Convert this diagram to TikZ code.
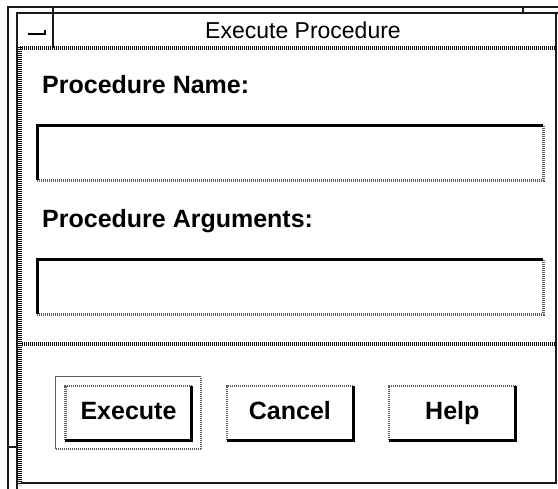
\documentclass[tikz,border=0pt]{standalone}
\usepackage{fontspec}
\newfontfamily\uifont{Liberation Sans}
\usetikzlibrary{positioning, calc}
\definecolor{Frame}{HTML}{1A1A1A}
\definecolor{Shade}{HTML}{5E5E5E}
\tikzset{
    frameline/.style={line width=1.3pt, color=Frame},
    darkedge/.style={line width=3pt, color=black},
    lightedge/.style={line width=2.4pt, color=Shade, dash pattern=on 1pt off 1pt},
    ridge/.style={line width=3.4pt, color=black, dash pattern=on 1.3pt off 0.7pt},
    field/.style={rectangle, minimum width=506pt, minimum height=54pt, inner sep=0pt, anchor=north west},
    pushbutton/.style={rectangle, minimum width=126pt, minimum height=54pt, inner sep=0pt,
        text height=18pt, text depth=5pt, font=\uifont\bfseries\fontsize{25}{25}\selectfont},
    focusbox/.style={rectangle, minimum width=145pt, minimum height=72pt, inner sep=0pt},
    fieldlabel/.style={anchor=base west, inner sep=0pt, font=\uifont\bfseries\fontsize{25}{25}\selectfont},
}

\begin{document}
\begin{tikzpicture}[x=1pt, y=-1pt]
    \useasboundingbox (0,0) rectangle (558,489);
    \fill[white] (0,0) rectangle (558,489);

    % Fensterrahmen
    \draw[frameline] (8,489) -- (8,7) -- (558,7);
    \draw[frameline] (17,489) -- (17,13) -- (558,13);
    \draw[frameline] (8,447) -- (17,447);
    \draw[frameline] (53,7) -- (53,48);
    \draw[frameline] (523,7) -- (523,13);
    \draw[frameline] (556,13) -- (556,483) -- (21,483);
    \draw[ridge] (20,47) -- (20,485);
    \draw[ridge] (20,48) -- (556,48);

    % Titelleiste
    \draw[line width=2.4pt] (28,34) -- (45,34) -- (45,30);
    \node[anchor=base, inner sep=0pt, font=\uifont\fontsize{23}{23}\selectfont] (title) at (303,39) {Execute Procedure};

    % Eingabefelder
    \node[fieldlabel] (namelabel) at (42,94) {Procedure Name:};
    \node[field] (namefield) at (37,126) {};
    \node[fieldlabel] (arglabel) at (42,228) {Procedure Arguments:};
    \node[field] (argfield) at (37,260) {};
    \foreach \f in {namefield, argfield} {
        \draw[lightedge] (\f.south west) -- (\f.south east) -- (\f.north east);
        \draw[darkedge] (\f.south west) -- (\f.north west) -- (\f.north east);
    }

    % Trennlinie
    \draw[ridge] (22,344) -- (556,344);

    % Knoepfe
    \node[pushbutton] (execute) at (128.5,413) {Execute};
    \node[pushbutton, right=35pt of execute] (cancel) {Cancel};
    \node[pushbutton, right=36pt of cancel] (help) {Help};
    \foreach \b in {execute, cancel, help} {
        \draw[lightedge] (\b.south west) -- (\b.north west) -- (\b.north east);
        \draw[darkedge] (\b.south west) -- (\b.south east) -- (\b.north east);
    }
    \node[focusbox] (focus) at (execute) {};
    \draw[frameline, Shade] (focus.south west) -- (focus.north west) -- (focus.north east);
    \draw[lightedge] (focus.south west) -- (focus.south east) -- (focus.north east);
\end{tikzpicture}
\end{document}
